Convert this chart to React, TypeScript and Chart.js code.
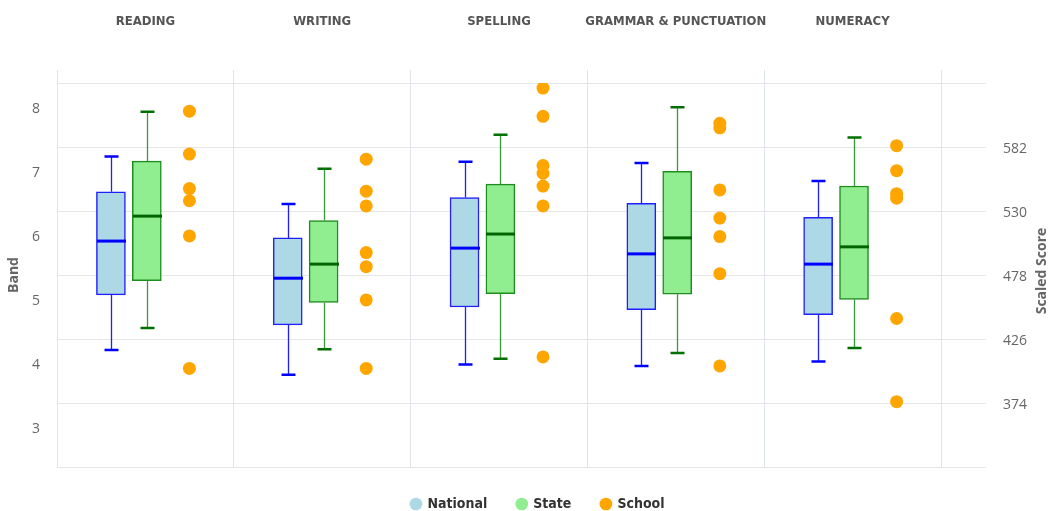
import React, { useEffect, useRef } from "react";
import { Chart, registerables } from "chart.js";

Chart.register(...registerables);

// ---- data ----
const categories = ["READING", "WRITING", "SPELLING", "GRAMMAR & PUNCTUATION", "NUMERACY"];
const seriesNames = ["National", "State", "School"];

const nationalMin = [4.19, 3.8, 3.96, 3.94, 4.01];
const nationalQ1 = [5.05, 4.58, 4.86, 4.82, 4.74];
const nationalMedian = [5.89, 5.31, 5.78, 5.69, 5.53];
const nationalQ3 = [6.66, 5.94, 6.57, 6.48, 6.26];
const nationalMax = [7.21, 6.47, 7.13, 7.11, 6.83];

const stateMin = [4.53, 4.2, 4.05, 4.14, 4.22];
const stateQ1 = [5.27, 4.93, 5.07, 5.06, 4.98];
const stateMedian = [6.28, 5.53, 6.0, 5.94, 5.8];
const stateQ3 = [7.14, 6.21, 6.78, 6.98, 6.75];
const stateMax = [7.91, 7.02, 7.55, 7.98, 7.51];

const schoolReading = [7.92, 7.25, 6.71, 6.52, 5.97, 3.9];
const schoolWriting = [7.17, 6.67, 6.44, 5.71, 5.49, 4.97, 3.9];
const schoolSpelling = [8.28, 7.84, 7.07, 6.95, 6.75, 6.44, 4.08];
const schoolGrammar = [7.73, 7.66, 6.69, 6.25, 5.96, 5.38, 3.94];
const schoolNumeracy = [7.38, 6.99, 6.63, 6.56, 4.68, 3.38];
const schoolScores = [schoolReading, schoolWriting, schoolSpelling, schoolGrammar, schoolNumeracy];

const bandTicks = [3, 4, 5, 6, 7, 8];
const scoreGridTicks = [322, 374, 426, 478, 530, 582, 634];
const scoreTickLabels = [374, 426, 478, 530, 582];

// ---- style ----
const COND = '"Liberation Sans Narrow", "DejaVu Sans Condensed", "Roboto Condensed", Roboto, sans-serif';
const SANS = '"Open Sans", "Noto Sans", sans-serif';
const NAT_OFF = -0.195;
const STATE_OFF = 0.008;
const SCHOOL_OFF = 0.249;
const BOX_W = 29;
const CAP_W = 14;
const LEGEND_H = 44;
const LEGEND_SHIFT = 12;
const natFill = "#add8e6";
const natLine = "#1f1fff";
const stateFill = "#90ee90";
const stateLine = "#1e8c1e";
const schoolColor = "#ffa500";

const boxPlugin = {
  id: "boxWhiskers",
  beforeLayout(chart: any) {
    const lg = chart.legend;
    if (lg && !lg._fixedH) {
      const origFit = lg.fit.bind(lg);
      lg.fit = function () {
        origFit();
        this.height = LEGEND_H;
      };
      const origDraw = lg.draw.bind(lg);
      lg.draw = function () {
        const c = this.ctx;
        c.save();
        c.translate(LEGEND_SHIFT, 0);
        origDraw();
        c.restore();
      };
      lg._fixedH = true;
    }
  },
  afterDatasetsDraw(chart: any) {
    const xs = chart.scales.xd;
    const ys = chart.scales.yBand;
    const ctx = chart.ctx;
    const groups = [
      { off: NAT_OFF, mn: nationalMin, q1: nationalQ1, md: nationalMedian, q3: nationalQ3, mx: nationalMax, stem: natLine, cap: "#0000ff", med: "#0000ff" },
      { off: STATE_OFF, mn: stateMin, q1: stateQ1, md: stateMedian, q3: stateQ3, mx: stateMax, stem: "#3a9a3a", cap: "#007000", med: "#006400" },
    ];
    ctx.save();
    ctx.lineCap = "butt";
    groups.forEach((g) => {
      categories.forEach((_, i) => {
        const cx = Math.round(xs.getPixelForValue(i + g.off)) + 0.5;
        const yMin = ys.getPixelForValue(g.mn[i]);
        const yQ1 = ys.getPixelForValue(g.q1[i]);
        const yMd = ys.getPixelForValue(g.md[i]);
        const yQ3 = ys.getPixelForValue(g.q3[i]);
        const yMax = ys.getPixelForValue(g.mx[i]);
        ctx.strokeStyle = g.stem;
        ctx.lineWidth = 1.3;
        ctx.beginPath();
        ctx.moveTo(cx, yMax);
        ctx.lineTo(cx, yQ3);
        ctx.moveTo(cx, yQ1);
        ctx.lineTo(cx, yMin);
        ctx.stroke();
        ctx.strokeStyle = g.cap;
        ctx.lineWidth = 2.5;
        ctx.beginPath();
        ctx.moveTo(cx - CAP_W / 2, yMax);
        ctx.lineTo(cx + CAP_W / 2, yMax);
        ctx.moveTo(cx - CAP_W / 2, yMin);
        ctx.lineTo(cx + CAP_W / 2, yMin);
        ctx.stroke();
        ctx.strokeStyle = g.med;
        ctx.lineWidth = 3;
        ctx.beginPath();
        ctx.moveTo(cx - BOX_W / 2, yMd);
        ctx.lineTo(cx + BOX_W / 2, yMd);
        ctx.stroke();
      });
    });
    ctx.restore();
  },
  afterDraw(chart: any) {
    const s = chart.scales.y1;
    const ctx = chart.ctx;
    ctx.save();
    ctx.translate(s.right - 10, (s.top + s.bottom) / 2 - 4);
    ctx.rotate(-Math.PI / 2);
    ctx.textAlign = "center";
    ctx.textBaseline = "middle";
    ctx.font = `bold 14px ${SANS}`;
    ctx.fillStyle = "#666";
    ctx.fillText("Scaled Score", 0, 0);
    ctx.restore();
  },
};

const legendColors = [natFill, stateFill, schoolColor];

export default function App() {
  const ref = useRef<HTMLCanvasElement | null>(null);
  useEffect(() => {
    document.body.style.margin = "0";
    const canvas = ref.current;
    if (!canvas) return;
    const chart = new Chart(canvas, {
      type: "bar",
      data: {
        labels: categories,
        datasets: [
          {
            type: "bar",
            label: seriesNames[0],
            data: categories.map((_, i) => ({ x: i + NAT_OFF, y: [nationalQ1[i], nationalQ3[i]] })) as any,
            backgroundColor: natFill,
            borderColor: natLine,
            borderWidth: 1.5,
            borderSkipped: false,
            barThickness: BOX_W,
            grouped: false,
            xAxisID: "xd",
            yAxisID: "yBand",
          } as any,
          {
            type: "bar",
            label: seriesNames[1],
            data: categories.map((_, i) => ({ x: i + STATE_OFF, y: [stateQ1[i], stateQ3[i]] })) as any,
            backgroundColor: stateFill,
            borderColor: stateLine,
            borderWidth: 1.5,
            borderSkipped: false,
            barThickness: BOX_W,
            grouped: false,
            xAxisID: "xd",
            yAxisID: "yBand",
          } as any,
          {
            type: "scatter",
            label: seriesNames[2],
            data: schoolScores.flatMap((arr, i) => arr.map((v) => ({ x: i + SCHOOL_OFF, y: v }))),
            backgroundColor: schoolColor,
            borderColor: schoolColor,
            borderWidth: 0,
            pointRadius: 6.5,
            pointHoverRadius: 6.5,
            xAxisID: "xd",
            yAxisID: "yBand",
          } as any,
        ],
      },
      options: {
        animation: false,
        responsive: true,
        maintainAspectRatio: false,
        layout: { padding: 0 },
        plugins: {
          tooltip: { enabled: false },
          legend: {
            position: "bottom",
            labels: {
              usePointStyle: true,
              boxWidth: 9,
              boxHeight: 9,
              padding: 30,
              color: "#333",
              font: { family: COND, size: 14, weight: "bold" },
              generateLabels: (c: any) =>
                c.data.datasets.map((ds: any, i: number) => ({
                  text: ds.label,
                  fillStyle: legendColors[i],
                  strokeStyle: legendColors[i],
                  lineWidth: 0,
                  pointStyle: "circle",
                  hidden: false,
                  datasetIndex: i,
                  fontColor: "#333",
                })),
            },
          },
        },
        scales: {
          x: {
            type: "category",
            position: "top",
            offset: true,
            grid: { offset: true, color: "#dfe3ee", tickLength: 13, drawTicks: true },
            border: { display: false },
            ticks: {
              padding: 41,
              color: "#555",
              maxRotation: 0,
              autoSkip: false,
              font: { family: COND, size: 13, weight: "bold" },
            },
            afterFit: (s: any) => {
              s.height = 83;
            },
          },
          xd: {
            type: "linear",
            display: false,
            offset: false,
            grid: { offset: false },
            min: -0.5,
            max: 4.5,
          },
          yBand: {
            type: "linear",
            position: "left",
            min: 2.36,
            max: 8.36,
            afterBuildTicks: (s: any) => {
              s.ticks = bandTicks.map((v) => ({ value: v }));
            },
            grid: { display: false, drawTicks: false },
            border: { display: false },
            ticks: { padding: 17, labelOffset: 3, color: "#666", font: { family: SANS, size: 14 } },
            title: {
              display: true,
              text: "Band",
              color: "#666",
              font: { family: SANS, size: 14, weight: "bold" },
              padding: { top: 6, bottom: 0 },
            },
            afterFit: (s: any) => {
              s.width = 57;
            },
          },
          y1: {
            type: "linear",
            position: "right",
            min: 322,
            max: 634,
            afterBuildTicks: (s: any) => {
              s.ticks = scoreGridTicks.map((v) => ({ value: v }));
            },
            grid: { color: "#e6e6e6", tickLength: 45, drawTicks: true },
            border: { display: false },
            ticks: {
              padding: 17,
              labelOffset: 2,
              color: "#666",
              font: { family: SANS, size: 14 },
              callback: (v: any) => (scoreTickLabels.includes(Number(v)) ? String(v) : ""),
            },
            afterFit: (s: any) => {
              s.width = 111;
            },
          },
        },
      } as any,
      plugins: [boxPlugin],
    });
    return () => chart.destroy();
  }, []);
  return (
    <div style={{ position: "fixed", left: 0, top: 0, width: 1052, height: 511 }}>
      <canvas ref={ref} />
    </div>
  );
}
